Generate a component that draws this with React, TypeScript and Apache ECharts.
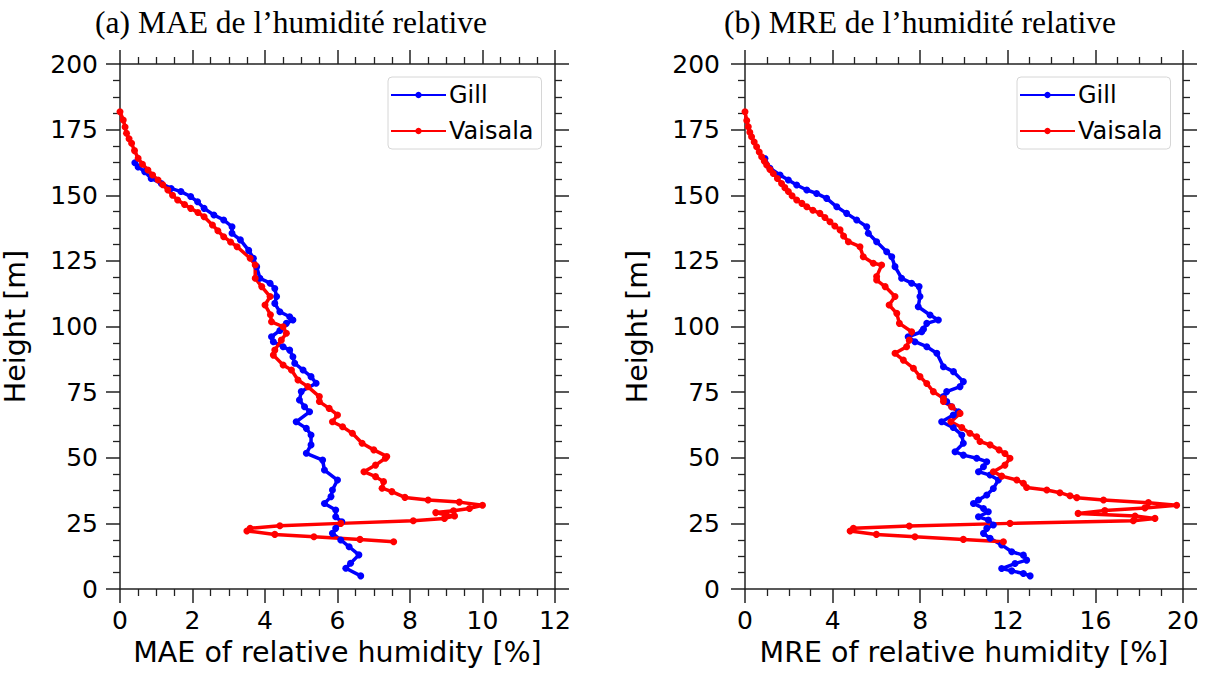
import React, { useEffect, useRef } from "react";
import * as echarts from "echarts";

// ---------- data ----------
const seriesNames = ["Gill", "Vaisala"];
const titleA = "(a) MAE de l’humidité relative";
const titleB = "(b) MRE de l’humidité relative";
const xNameA = "MAE of relative humidity [%]";
const xNameB = "MRE of relative humidity [%]";
const yName = "Height [m]";

const maeMax = 12;
const maeStep = 2;
const mreMax = 20;
const mreStep = 4;
const heightMax = 200;
const heightStep = 25;

// MAE – Gill
const gillMaeH = [162.4, 160.8, 159.0, 156.4, 154.5, 152.6, 151.4, 149.5, 147.5, 145.0, 142.5, 140.6, 138.0, 135.5, 133.0, 129.0, 126.0, 122.8, 118.4, 116.5, 114.5, 111.4, 108.8, 105.6, 103.7, 102.5, 101.2, 98.5, 96.1, 94.2, 92.3, 91.0, 88.5, 86.0, 83.4, 80.9, 78.4, 75.2, 72.0, 69.4, 67.5, 63.7, 61.2, 58.7, 54.9, 51.7, 49.1, 45.3, 41.5, 37.7, 35.2, 32.6, 30.1, 27.5, 25.6, 23.1, 21.2, 18.7, 16.1, 13.0, 9.8, 7.9, 5.0];
const gillMaeV = [0.41, 0.5, 0.68, 0.86, 1.14, 1.41, 1.68, 1.95, 2.14, 2.32, 2.59, 2.86, 3.09, 3.09, 3.32, 3.55, 3.68, 3.77, 3.86, 4.14, 4.27, 4.32, 4.27, 4.41, 4.68, 4.77, 4.59, 4.41, 4.18, 4.23, 4.5, 4.68, 4.77, 4.82, 5.05, 5.27, 5.41, 5.0, 4.95, 5.09, 5.23, 4.86, 5.14, 5.27, 5.27, 5.14, 5.59, 5.64, 6.0, 5.86, 5.82, 5.64, 5.95, 5.95, 6.12, 5.95, 5.86, 6.09, 6.32, 6.59, 6.36, 6.23, 6.64];

// MAE – Vaisala
const vaisMaeH = [181.8, 178.7, 176.0, 173.6, 171.5, 169.8, 167.0, 164.1, 161.8, 159.6, 157.7, 155.8, 154.0, 152.0, 150.0, 148.2, 146.5, 145.0, 143.4, 141.8, 138.7, 136.5, 134.2, 132.2, 130.4, 126.0, 123.4, 118.4, 115.2, 111.4, 108.2, 104.5, 101.8, 99.9, 97.4, 94.8, 91.0, 89.1, 85.3, 83.4, 79.6, 77.1, 73.3, 71.4, 68.8, 66.3, 63.7, 61.8, 59.3, 55.5, 53.0, 50.5, 49.8, 47.2, 44.7, 42.8, 40.9, 38.4, 37.1, 34.9, 33.9, 33.1, 31.9, 30.7, 29.8, 29.1, 28.2, 27.8, 26.9, 26.0, 25.0, 24.1, 23.1, 22.1, 20.8, 19.9, 18.9, 18.0];
const vaisMaeV = [0.0, 0.09, 0.14, 0.18, 0.25, 0.32, 0.4, 0.5, 0.62, 0.77, 0.9, 1.05, 1.18, 1.32, 1.45, 1.59, 1.78, 1.95, 2.15, 2.32, 2.55, 2.7, 2.86, 3.05, 3.23, 3.59, 3.73, 3.73, 3.91, 4.14, 4.0, 4.15, 4.18, 4.5, 4.59, 4.45, 4.27, 4.23, 4.5, 4.73, 4.91, 5.18, 5.5, 5.5, 5.77, 6.0, 5.86, 6.14, 6.41, 6.68, 7.0, 7.36, 7.32, 7.05, 6.73, 7.05, 7.27, 7.23, 7.5, 7.86, 8.5, 9.36, 10.0, 9.64, 9.2, 8.71, 9.0, 9.23, 8.95, 8.09, 6.09, 4.41, 3.59, 3.5, 4.27, 5.35, 6.62, 7.55];

// MRE – Gill
const gillMreH = [164.0, 160.3, 157.7, 155.8, 153.9, 152.0, 150.7, 148.8, 145.6, 143.1, 140.6, 138.0, 135.5, 132.3, 128.5, 126.6, 122.8, 118.4, 116.5, 115.2, 111.4, 107.5, 104.4, 102.5, 101.2, 99.0, 98.0, 96.1, 94.2, 92.3, 89.8, 84.7, 82.8, 79.0, 77.1, 75.2, 73.3, 71.4, 69.4, 67.5, 66.3, 63.7, 61.5, 58.7, 55.5, 52.3, 51.0, 49.8, 48.5, 46.6, 44.7, 43.4, 41.5, 38.3, 35.8, 33.9, 32.6, 30.7, 29.4, 27.5, 26.3, 24.4, 23.1, 21.2, 19.3, 16.8, 14.2, 12.9, 11.0, 9.7, 7.8, 6.9, 5.9, 5.0];
const gillMreV = [0.91, 1.14, 1.6, 1.98, 2.36, 2.82, 3.27, 3.73, 4.19, 4.64, 5.1, 5.56, 5.63, 6.01, 6.47, 6.7, 6.85, 7.15, 7.61, 7.95, 7.99, 7.91, 8.45, 8.83, 8.3, 8.15, 8.07, 7.45, 7.76, 8.3, 8.76, 9.06, 9.52, 9.97, 9.82, 9.21, 9.06, 9.21, 9.44, 9.74, 9.51, 8.98, 9.51, 9.9, 9.97, 9.59, 9.97, 10.58, 11.04, 10.89, 10.66, 11.19, 11.57, 11.34, 11.04, 10.66, 10.43, 10.89, 11.11, 10.66, 11.11, 11.34, 11.04, 10.89, 11.19, 11.72, 12.18, 12.71, 12.86, 12.33, 11.72, 12.18, 12.71, 13.02];

// MRE – Vaisala
const vaisMreH = [181.8, 178.5, 176.1, 174.0, 172.3, 170.3, 168.5, 166.5, 164.7, 163.0, 161.5, 159.8, 158.3, 156.4, 154.5, 152.9, 151.4, 149.8, 148.2, 146.9, 145.6, 144.3, 143.1, 141.5, 139.9, 138.3, 136.8, 134.5, 132.3, 130.4, 126.6, 124.1, 123.4, 119.0, 117.7, 115.2, 111.4, 108.2, 105.0, 101.2, 98.0, 94.8, 92.3, 89.8, 87.2, 84.1, 80.9, 78.3, 75.2, 72.6, 71.4, 69.4, 66.9, 63.7, 61.5, 59.3, 58.0, 56.2, 54.9, 53.0, 51.6, 49.8, 47.2, 44.7, 43.0, 41.5, 40.3, 38.7, 37.7, 36.7, 35.5, 34.8, 33.9, 32.9, 31.9, 30.9, 29.9, 28.8, 27.8, 26.9, 26.0, 25.0, 24.0, 23.1, 22.1, 20.8, 19.9, 18.9, 18.0];
const vaisMreV = [0.0, 0.08, 0.15, 0.22, 0.3, 0.42, 0.53, 0.65, 0.76, 0.88, 0.99, 1.14, 1.29, 1.48, 1.67, 1.82, 1.98, 2.15, 2.36, 2.6, 2.82, 3.1, 3.42, 3.65, 3.88, 4.1, 4.34, 4.5, 4.72, 5.25, 5.4, 5.86, 6.24, 6.01, 6.01, 6.4, 6.85, 6.58, 6.93, 7.05, 7.61, 7.5, 7.38, 6.85, 7.23, 7.69, 7.99, 8.3, 8.6, 9.06, 9.06, 9.44, 9.82, 9.4, 9.9, 10.27, 10.58, 10.73, 11.19, 11.6, 11.87, 12.1, 11.87, 11.34, 11.72, 12.41, 12.71, 12.86, 13.78, 14.38, 14.84, 15.15, 16.37, 18.42, 19.71, 18.26, 16.43, 15.21, 17.81, 18.72, 17.73, 12.1, 7.5, 4.95, 4.8, 6.0, 7.76, 9.97, 11.8];

const colors = ["#0000ff", "#ff0000"];

const pairs = (v: number[], h: number[]) => v.map((x, i) => [x, h[i]]);

const SANS = "DejaVu Sans";
const SERIF = "Liberation Serif";
const AX = "#222";

function App() {
  const ref = useRef<HTMLDivElement>(null);
  useEffect(() => {
    if (!ref.current) return;
    const chart = echarts.init(ref.current, null, { renderer: "svg" });

    const grids = [
      { left: 115, top: 64, width: 440, height: 525 },
      { left: 745, top: 64, width: 438, height: 525 },
    ];

    const tickCommon = {
      axisLine: { show: true, onZero: false, lineStyle: { color: AX, width: 1.5 } },
      axisTick: { show: true, length: 14, lineStyle: { color: AX, width: 1.5 } },
      minorTick: { show: true, splitNumber: 4, length: 7, lineStyle: { color: AX, width: 1.3 } },
      splitLine: { show: false },
    };

    const xAxisFor = (gi: number, max: number, step: number, name: string) => [
      {
        type: "value",
        gridIndex: gi,
        min: 0,
        max,
        interval: step,
        position: "bottom",
        name,
        nameLocation: "middle",
        nameGap: 48,
        nameTextStyle: { fontFamily: SANS, fontSize: 28.5, color: "#000" },
        axisLabel: { fontFamily: SANS, fontSize: 25, color: "#000", margin: 19 },
        ...tickCommon,
      },
      {
        type: "value",
        gridIndex: gi,
        min: 0,
        max,
        interval: step,
        position: "top",
        axisLabel: { show: false },
        ...tickCommon,
      },
    ];
    const yAxisFor = (gi: number, gap: number, margin: number) => [
      {
        type: "value",
        gridIndex: gi,
        min: 0,
        max: heightMax,
        interval: heightStep,
        position: "left",
        name: yName,
        nameLocation: "middle",
        nameGap: gap,
        nameRotate: 90,
        nameTextStyle: { fontFamily: SANS, fontSize: 28.5, color: "#000" },
        axisLabel: { fontFamily: SANS, fontSize: 25, color: "#000", margin },
        ...tickCommon,
      },
      {
        type: "value",
        gridIndex: gi,
        min: 0,
        max: heightMax,
        interval: heightStep,
        position: "right",
        axisLabel: { show: false },
        ...tickCommon,
      },
    ];

    const mkSeries = (name: string, color: string, xi: number, yi: number, data: number[][]) => ({
      type: "line",
      name,
      xAxisIndex: xi,
      yAxisIndex: yi,
      data,
      symbol: "circle",
      symbolSize: 7,
      showSymbol: true,
      lineStyle: { color, width: 3.5 },
      itemStyle: { color },
      emphasis: { disabled: true },
    });

    const legendFor = (left: number) => ({
      show: true,
      orient: "vertical",
      left,
      top: 77,
      data: seriesNames,
      itemWidth: 55,
      itemHeight: 8,
      itemGap: 12,
      padding: [6, 8, 6, 2],
      borderColor: "#d6d6d6",
      borderWidth: 1,
      borderRadius: 4,
      backgroundColor: "#fff",
      textStyle: { fontFamily: SANS, fontSize: 24, color: "#000", padding: [0, 0, 0, -2] },
    });

    chart.setOption({
      animation: false,
      backgroundColor: "#fff",
      grid: grids,
      xAxis: [...xAxisFor(0, maeMax, maeStep, xNameA), ...xAxisFor(1, mreMax, mreStep, xNameB)],
      yAxis: [...yAxisFor(0, 90, 22), ...yAxisFor(1, 93, 25)],
      legend: [legendFor(388), legendFor(1017)],
      series: [
        mkSeries(seriesNames[0], colors[0], 0, 0, pairs(gillMaeV, gillMaeH)),
        mkSeries(seriesNames[1], colors[1], 0, 0, pairs(vaisMaeV, vaisMaeH)),
        mkSeries(seriesNames[0], colors[0], 2, 2, pairs(gillMreV, gillMreH)),
        mkSeries(seriesNames[1], colors[1], 2, 2, pairs(vaisMreV, vaisMreH)),
      ],
      graphic: [
        {
          type: "text",
          x: 291,
          y: 22,
          style: { text: titleA, font: `31.5px "${SERIF}"`, fill: "#000", textAlign: "center", textVerticalAlign: "middle" },
        },
        {
          type: "text",
          x: 920,
          y: 22,
          style: { text: titleB, font: `31.5px "${SERIF}"`, fill: "#000", textAlign: "center", textVerticalAlign: "middle" },
        },
      ],
    });
    return () => chart.dispose();
  }, []);
  return (
    <div
      ref={ref}
      style={{ position: "fixed", left: 0, top: 0, width: 1212, height: 673, background: "#fff" }}
    />
  );
}

export default App;
